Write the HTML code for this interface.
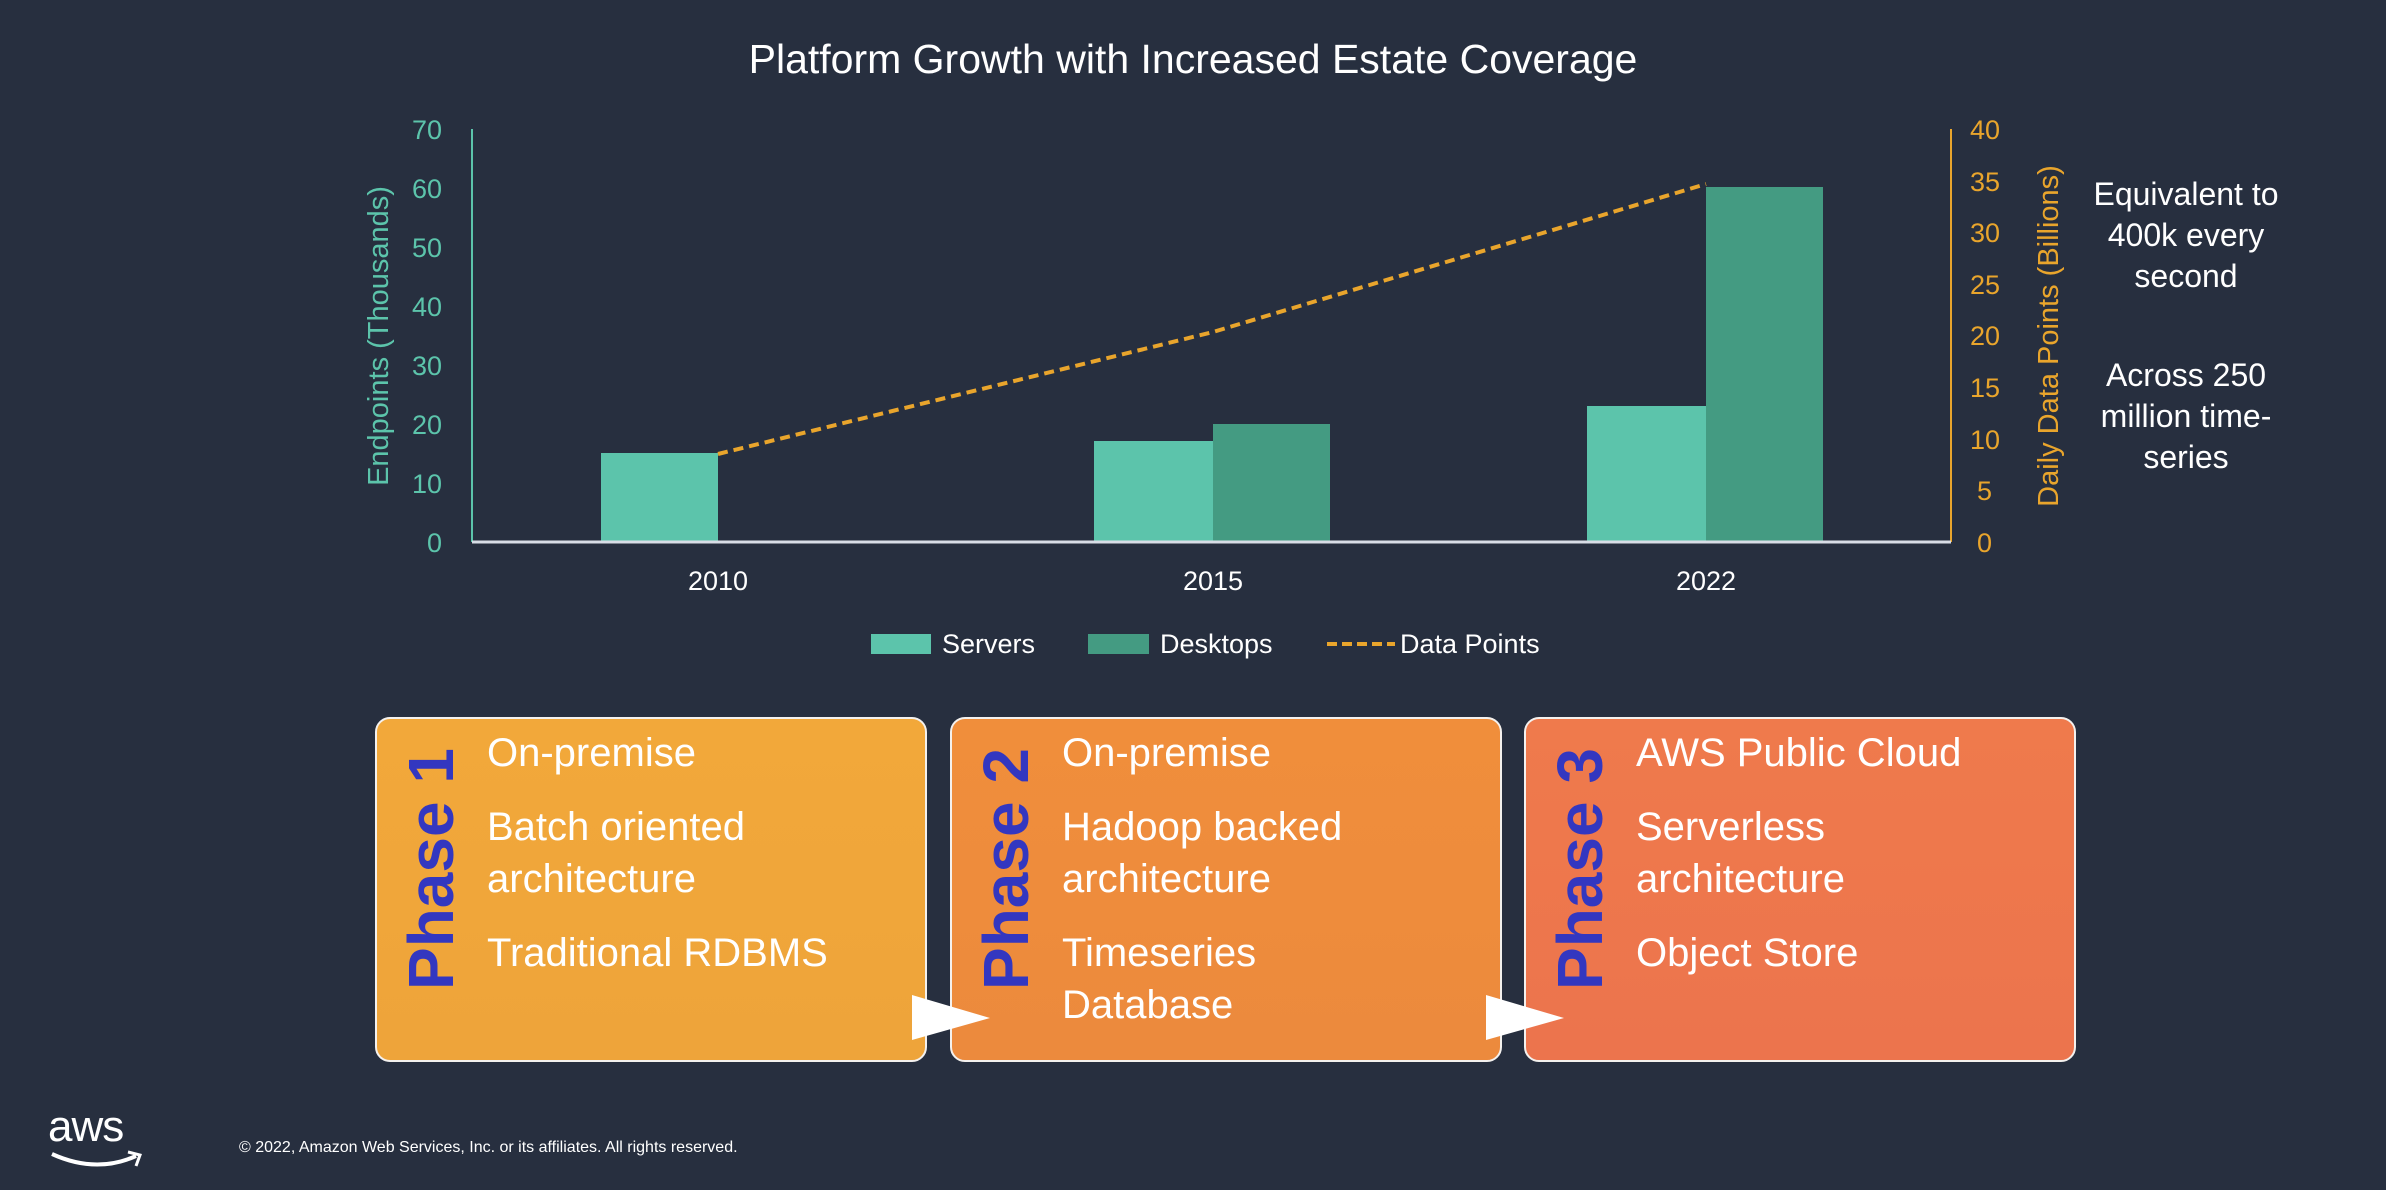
<!DOCTYPE html>
<html><head><meta charset="utf-8"><style>
body{margin:0;width:2386px;height:1190px;background:#272f3f;overflow:hidden;font-family:"Liberation Sans","DejaVu Sans",sans-serif;position:relative}
.a{position:absolute;white-space:nowrap}
.box{position:absolute;top:717px;width:552px;height:345px;border:2px solid #f4f1ee;border-radius:15px;box-sizing:border-box}
.ph{position:absolute;left:12px;top:0;width:80px;height:345px}
.t{position:absolute;color:#fff;font-size:40px;line-height:52px}
</style></head><body>
<div class="a" style="left:0;width:2386px;top:36px;text-align:center;color:#fff;font-size:41px">Platform Growth with Increased Estate Coverage</div>

<svg class="a" style="left:0;top:0" width="2386" height="700">
<g font-family="Liberation Sans, sans-serif" font-size="27">
<line x1="472" y1="129" x2="472" y2="542" stroke="#5cc4ab" stroke-width="2"/>
<g fill="#5cc4ab" text-anchor="end">
<text x="442" y="139">70</text><text x="442" y="198">60</text><text x="442" y="257">50</text><text x="442" y="316">40</text><text x="442" y="375">30</text><text x="442" y="434">20</text><text x="442" y="493">10</text><text x="442" y="552">0</text>
</g>
<text transform="translate(388,336) rotate(-90)" fill="#5cc4ab" font-size="29" text-anchor="middle">Endpoints (Thousands)</text>
<line x1="1951" y1="129" x2="1951" y2="542" stroke="#e9a52c" stroke-width="2"/>
<g fill="#e9a52c">
<text x="1970" y="139">40</text><text x="1970" y="191">35</text><text x="1970" y="242">30</text><text x="1970" y="294">25</text><text x="1970" y="345">20</text><text x="1970" y="397">15</text><text x="1970" y="449">10</text><text x="1977" y="500">5</text><text x="1977" y="552">0</text>
</g>
<text transform="translate(2058,336) rotate(-90)" fill="#e9a52c" font-size="29" text-anchor="middle">Daily Data Points (Billions)</text>
<rect x="601" y="453" width="117" height="89" fill="#5cc4ab"/>
<rect x="1094" y="441" width="119" height="101" fill="#5cc4ab"/>
<rect x="1213" y="424" width="117" height="118" fill="#449b82"/>
<rect x="1587" y="406" width="119" height="136" fill="#5cc4ab"/>
<rect x="1706" y="187" width="117" height="355" fill="#449b82"/>
<line x1="472" y1="542" x2="1951" y2="542" stroke="#d8dde6" stroke-width="3"/>
<polyline points="718,454 1213,332 1706,184" fill="none" stroke="#e9a52c" stroke-width="4" stroke-dasharray="10,6"/>
<g fill="#fff" text-anchor="middle"><text x="718" y="590">2010</text><text x="1213" y="590">2015</text><text x="1706" y="590">2022</text></g>
<rect x="871" y="634" width="60" height="20" fill="#5cc4ab"/>
<text x="942" y="653" fill="#fff">Servers</text>
<rect x="1088" y="634" width="61" height="20" fill="#449b82"/>
<text x="1160" y="653" fill="#fff">Desktops</text>
<line x1="1327" y1="644" x2="1395" y2="644" stroke="#e9a52c" stroke-width="4" stroke-dasharray="10,5"/>
<text x="1400" y="653" fill="#fff">Data Points</text>
<g fill="#fff" font-size="32" text-anchor="middle">
<text x="2186" y="205">Equivalent to</text><text x="2186" y="246">400k every</text><text x="2186" y="287">second</text>
<text x="2186" y="386">Across 250</text><text x="2186" y="427">million time-</text><text x="2186" y="468">series</text>
</g></g></svg>

<div class="box" style="left:375px;background:linear-gradient(#f2a83a,#eea43a)">
<svg class="ph" width="80" height="345"><text transform="translate(64,150) rotate(-90)" text-anchor="middle" fill="#3337c0" font-size="64" font-weight="bold" font-family="Liberation Sans, sans-serif">Phase 1</text></svg>
<div class="t" style="left:110px;top:8px">On-premise</div>
<div class="t" style="left:110px;top:82px">Batch oriented<br>architecture</div>
<div class="t" style="left:110px;top:208px">Traditional RDBMS</div>
</div>
<div class="box" style="left:950px;background:linear-gradient(#f08e3b,#ec8a3d)">
<svg class="ph" width="80" height="345"><text transform="translate(64,150) rotate(-90)" text-anchor="middle" fill="#3337c0" font-size="64" font-weight="bold" font-family="Liberation Sans, sans-serif">Phase 2</text></svg>
<div class="t" style="left:110px;top:8px">On-premise</div>
<div class="t" style="left:110px;top:82px">Hadoop backed<br>architecture</div>
<div class="t" style="left:110px;top:208px">Timeseries<br>Database</div>
</div>
<div class="box" style="left:1524px;background:linear-gradient(#ef7a4c,#ec744d)">
<svg class="ph" width="80" height="345"><text transform="translate(64,150) rotate(-90)" text-anchor="middle" fill="#3337c0" font-size="64" font-weight="bold" font-family="Liberation Sans, sans-serif">Phase 3</text></svg>
<div class="t" style="left:110px;top:8px">AWS Public Cloud</div>
<div class="t" style="left:110px;top:82px">Serverless<br>architecture</div>
<div class="t" style="left:110px;top:208px">Object Store</div>
</div>
<svg class="a" style="left:0;top:0" width="2386" height="1190">
<polygon points="912,995 912,1040 990,1018" fill="#fff"/>
<polygon points="1486,995 1486,1040 1564,1018" fill="#fff"/>
</svg>

<div class="a" style="left:48px;top:1102px;color:#fff;font-size:44px;letter-spacing:-1px">aws</div>
<svg class="a" style="left:48px;top:1150px" width="100" height="24"><path d="M4,4 Q48,24 88,6" fill="none" stroke="#fff" stroke-width="4"/><path d="M80,2 L92,5 L88,16" fill="none" stroke="#fff" stroke-width="3"/></svg>
<div class="a" style="left:239px;top:1139px;color:#fff;font-size:16px">© 2022, Amazon Web Services, Inc. or its affiliates. All rights reserved.</div>
</body></html>
